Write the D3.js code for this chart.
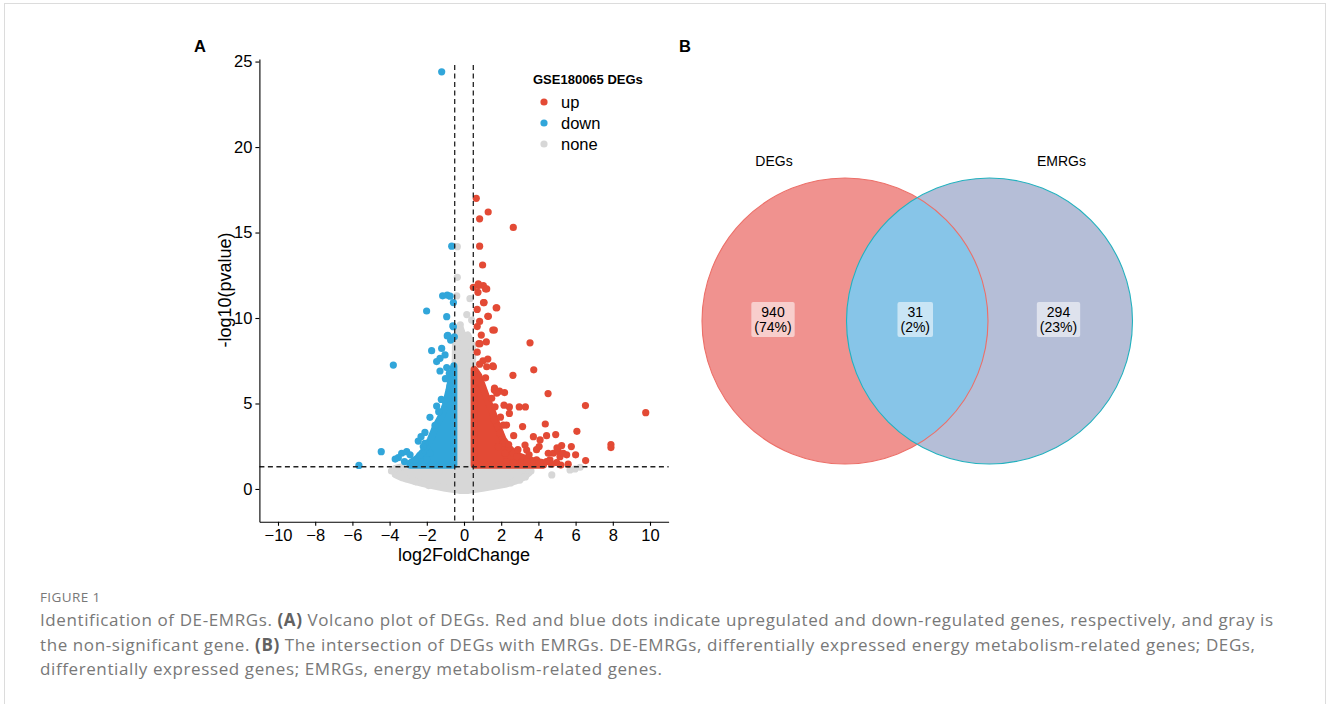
<!DOCTYPE html>
<html>
<head>
<meta charset="utf-8">
<title>Figure 1</title>
<script src="https://cdn.jsdelivr.net/npm/d3@7"></script>
<style>
body { margin: 0; background: #fff; }
svg { display: block; font-family: "Liberation Sans", Arial, sans-serif; }
.caption { font-family: "Open Sans", sans-serif; fill: #787878; }
</style>
</head>
<body>
<div id="chart"></div>
<script>
// ---- volcano data ----
var xTicks = [-10, -8, -6, -4, -2, 0, 2, 4, 6, 8, 10];
var yTicks = [0, 5, 10, 15, 20, 25];
var groups = ["up", "down", "none"];
var fcCut = 0.5;      // |log2FC| cut
var pCut = 1.301;     // -log10(0.05)

// dense cores, as [log2FC, low, high] envelopes
var noneBand = [[-3.7,0.85,1.2],[-3.3,0.65,1.3],[-2.8,0.5,1.3],[-2.2,0.32,1.3],[-1.6,0.18,1.3],[-1.0,0.05,1.3],
  [-0.55,-0.02,1.3],[-0.45,-0.03,8.9],[-0.2,-0.08,9.4],[0.0,-0.08,8.8],[0.2,-0.08,9.0],[0.45,-0.03,8.4],[0.55,-0.02,1.3],
  [1.0,0.05,1.3],[1.6,0.16,1.3],[2.2,0.28,1.3],[2.8,0.48,1.3],[3.2,0.68,1.3],[3.5,0.95,1.25]];
var upBand = [[0.55,1.4,7.0],[0.8,1.4,6.6],[1.0,1.4,6.0],[1.2,1.4,5.4],[1.5,1.4,4.6],[1.8,1.4,3.7],[2.1,1.4,2.9],
  [2.5,1.4,2.3],[3.0,1.4,1.9],[3.5,1.4,1.7],[4.2,1.4,1.55]];
var downBand = [[-0.55,1.4,7.2],[-0.8,1.4,5.8],[-1.0,1.4,4.9],[-1.2,1.4,4.3],[-1.5,1.4,3.7],[-1.8,1.4,2.9],
  [-2.1,1.4,2.3],[-2.5,1.4,1.8],[-2.9,1.4,1.5]];

// scattered genes, as [log2FC, -log10(p)]
var upPoints = [[0.66,17.0],[1.30,16.2],[0.84,15.8],[2.65,15.3],[0.84,14.2],[1.0,13.1],[0.5,11.8],[0.78,11.9],
  [1.16,11.7],[0.75,11.5],[1.05,10.9],[1.73,10.6],[0.71,10.5],[1.28,10.1],[0.84,9.8],[0.71,9.5],[1.55,9.3],
  [0.93,9.0],[0.8,8.5],[1.2,8.6],[3.55,8.55],[0.71,8.0],[1.28,7.6],[3.75,6.97],[1.02,7.5],[0.84,7.3],[1.55,7.2],
  [2.63,6.65],[1.16,6.5],[0.57,5.9],[4.52,5.58],[1.64,5.9],[2.18,5.64],[1.91,5.72],[6.53,4.88],[9.77,4.46],
  [3.3,4.8],[2.97,4.8],[2.44,4.8],[2.15,4.9],[1.96,4.2],[2.44,4.42],[3.15,3.65],[4.37,3.8],[2.67,3.12],
  [3.73,3.06],[4.44,3.12],[4.93,3.18],[6.07,3.37],[7.9,2.6],[7.9,2.42],[6.54,1.66],[5.21,1.4],[5.77,2.48],
  [5.25,2.54],[4.8,2.09],[4.53,2.09],[4.09,2.87],[3.28,2.57],[3.37,2.28],[4.04,2.48],[5.07,2.19],[4.62,1.7],
  [3.9,1.7],[2.65,2.09],[2.11,2.67],[2.2,2.09],[2.29,3.74],[1.94,3.25],[1.63,4.03],[2.11,3.74],[1.85,2.48],
  [4.27,1.4],[3.64,1.6],[3.1,1.5],[2.83,1.89],[5.52,2.0],[1.63,5.79],[1.76,5.6],[1.49,5.3],[1.67,4.81],
  [1.22,7.15],[1.58,7.15],[1.63,9.3],[1.31,10.1],[1.76,10.6],[1.08,10.9],[1.04,11.9],[0.77,12.0],[1.22,11.7],
  [0.86,8.5],[2.29,1.6],[2.65,1.55],[3.37,1.6],[4.09,1.55],[4.44,1.6],[4.98,1.55],[5.16,1.89],[5.34,2.09],
  [4.7,1.45],[5.0,2.4],[5.6,1.45],[6.0,2.0],[2.9,2.3],[3.5,2.0],[2.4,2.6],[3.9,2.3]];
var downPoints = [[-1.2,24.4],[-0.66,14.2],[-5.65,1.38],[-4.45,2.18],[-3.8,7.25],[-2.01,10.41],[-0.93,10.08],
  [-1.15,11.3],[-0.9,11.34],[-0.75,11.28],[-0.57,10.9],[-0.57,9.49],[-0.9,8.95],[-0.72,8.71],[-0.52,8.9],
  [-1.74,8.09],[-1.2,8.22],[-1.02,7.84],[-1.29,7.64],[-1.47,7.45],[-1.29,6.9],[-0.93,7.1],[-0.79,6.76],
  [-1.0,6.45],[-0.75,6.02],[-0.57,5.79],[-1.22,5.24],[-1.47,4.85],[-1.83,4.19],[-1.36,4.52],[-0.75,4.91],
  [-1.56,3.72],[-2.1,3.31],[-2.31,3.06],[-2.46,2.8],[-2.1,2.67],[-2.19,2.48],[-3.35,2.09],[-3.53,1.83],
  [-3.08,2.18],[-2.85,1.52],[-2.37,1.97],[-2.64,1.68],[-1.83,2.09],[-2.01,1.72],[-0.6,9.54],[-0.87,8.98],
  [-3.2,1.6],[-2.9,2.0],[-3.7,1.75]];
var nonePoints = [[-0.36,14.17],[-0.36,12.38],[-0.39,11.29],[0.32,11.13],[0.41,9.88],[4.72,0.82],[5.7,1.11],
  [5.97,1.17],[6.24,1.27],[-3.44,0.86],[-3.1,0.6],[0.15,10.2],[-0.2,9.6],[3.6,1.05],[3.3,0.7],
  [-3.9,1.05],[-2.6,0.42],[-1.9,0.2],[2.5,0.35],[3.0,0.52]];

// ---- venn data ----
var vennSets = ["DEGs", "EMRGs"];
var vennCounts = [940, 31, 294];   // DEGs only, both, EMRGs only

var captionTitle = "FIGURE 1";

var w = 1328, h = 704;
var svg = d3.select("#chart").append("svg").attr("width", w).attr("height", h);

// page frame
svg.append("rect").attr("x", 4.5).attr("y", 3.5).attr("width", 1321).attr("height", 760)
  .attr("fill", "none").attr("stroke", "#dcdcdc");

// ================= A: volcano =================
var x = d3.scaleLinear().domain([-11, 11]).range([259.4, 668.6]);
var y = d3.scaleLinear().domain([-1.92, 25.15]).range([521.8, 59]);
var color = d3.scaleOrdinal().domain(groups).range(["#E34A35", "#31A6DA", "#D7D7D7"]);
var r = 3.6;

var plot = svg.append("g");

var area = d3.area()
  .x(function(d) { return x(d[0]); })
  .y0(function(d) { return y(d[1]); })
  .y1(function(d) { return y(d[2]); });

function drawGroup(name, band, pts) {
  plot.append("path").datum(band)
    .attr("d", area)
    .attr("fill", color(name))
    .attr("stroke", color(name))
    .attr("stroke-width", r * 2)
    .attr("stroke-linejoin", "round");
  plot.append("g").selectAll("circle")
    .data(pts).enter().append("circle")
    .attr("cx", function(d) { return x(d[0]); })
    .attr("cy", function(d) { return y(d[1]); })
    .attr("r", r)
    .attr("fill", color(name));
}
drawGroup("none", noneBand, nonePoints);
drawGroup("down", downBand, downPoints);
drawGroup("up", upBand, upPoints);

// threshold lines
var dash = "5,3.5";
[-fcCut, fcCut].forEach(function(v) {
  plot.append("line")
    .attr("x1", x(v)).attr("x2", x(v)).attr("y1", y(25.15) + 6).attr("y2", y(-1.92))
    .attr("stroke", "#222").attr("stroke-width", 1.3).attr("stroke-dasharray", dash);
});
plot.append("line")
  .attr("x1", x(-11)).attr("x2", x(11)).attr("y1", y(pCut)).attr("y2", y(pCut))
  .attr("stroke", "#222").attr("stroke-width", 1.3).attr("stroke-dasharray", dash);

// axes
var xAxis = svg.append("g").attr("transform", "translate(0," + y(-1.92) + ")")
  .call(d3.axisBottom(x).tickValues(xTicks).tickSize(4).tickSizeOuter(0).tickPadding(3));
var yAxis = svg.append("g").attr("transform", "translate(" + x(-11) + ",0)")
  .call(d3.axisLeft(y).tickValues(yTicks).tickSize(4).tickSizeOuter(0).tickPadding(3));
[xAxis, yAxis].forEach(function(a) {
  a.selectAll("text").attr("font-size", 16.5).attr("fill", "#000")
    .attr("font-family", "Liberation Sans, Arial, sans-serif");
  a.selectAll("line, path").attr("stroke", "#000").attr("stroke-width", 1.1);
});

svg.append("text").attr("x", x(0)).attr("y", 561).attr("text-anchor", "middle")
  .attr("font-size", 18).text("log2FoldChange");
svg.append("text").attr("transform", "translate(231,290) rotate(-90)")
  .attr("text-anchor", "middle").attr("font-size", 18).text("-log10(pvalue)");

// legend
var leg = svg.append("g").attr("transform", "translate(533,0)");
leg.append("text").attr("x", 0).attr("y", 84).attr("font-size", 13).attr("font-weight", "bold")
  .text("GSE180065 DEGs");
leg.selectAll(".item").data(groups).enter().append("g")
  .attr("transform", function(d, i) { return "translate(0," + (102 + i * 21) + ")"; })
  .each(function(d) {
    var g = d3.select(this);
    g.append("circle").attr("cx", 11).attr("cy", 0).attr("r", r).attr("fill", color(d));
    g.append("text").attr("x", 28).attr("y", 5.5).attr("font-size", 16.5).text(d);
  });

// panel letters
svg.append("text").attr("x", 194).attr("y", 52).attr("font-size", 16.5).attr("font-weight", "bold").text("A");
svg.append("text").attr("x", 679).attr("y", 52).attr("font-size", 16.5).attr("font-weight", "bold").text("B");

// ================= B: venn =================
var total = d3.sum(vennCounts);
var cy = 321, vr = 143;
var cx = d3.scalePoint().domain(vennSets).range([845, 989.5]);
var venn = svg.append("g");
var defs = svg.append("defs");
defs.append("clipPath").attr("id", "clipL").append("circle")
  .attr("cx", cx(vennSets[0])).attr("cy", cy).attr("r", vr);

venn.append("circle").attr("cx", cx(vennSets[0])).attr("cy", cy).attr("r", vr).attr("fill", "#F0928F");
venn.append("circle").attr("cx", cx(vennSets[1])).attr("cy", cy).attr("r", vr).attr("fill", "#B5BED7");
venn.append("circle").attr("cx", cx(vennSets[1])).attr("cy", cy).attr("r", vr).attr("fill", "#87C5E8")
  .attr("clip-path", "url(#clipL)");
venn.append("circle").attr("cx", cx(vennSets[0])).attr("cy", cy).attr("r", vr)
  .attr("fill", "none").attr("stroke", "#EC6F68").attr("stroke-width", 1.1);
venn.append("circle").attr("cx", cx(vennSets[1])).attr("cy", cy).attr("r", vr)
  .attr("fill", "none").attr("stroke", "#22B1BE").attr("stroke-width", 1.1);

venn.selectAll(".setlab").data(vennSets).enter().append("text")
  .attr("x", function(d, i) { return cx(d) + (i === 0 ? -71 : 72); })
  .attr("y", 166).attr("text-anchor", "middle").attr("font-size", 14).text(function(d) { return d; });

var labX = [cx(vennSets[0]) - 72, (cx(vennSets[0]) + cx(vennSets[1])) / 2 - 2, cx(vennSets[1]) + 69];
vennCounts.forEach(function(c, i) {
  var g = venn.append("g");
  var bg = g.append("rect");
  var t = g.append("text").attr("text-anchor", "middle").attr("font-size", 14);
  t.append("tspan").attr("x", labX[i]).attr("y", 317).text(c);
  t.append("tspan").attr("x", labX[i]).attr("y", 332).text("(" + Math.round(c / total * 100) + "%)");
  var b = t.node().getBBox();
  bg.attr("x", b.x - 3).attr("y", 302).attr("width", b.width + 6).attr("height", 35)
    .attr("rx", 2).attr("fill", "#fff").attr("fill-opacity", 0.55);
});

// ================= caption =================
var cap = svg.append("g").attr("class", "caption");
cap.append("text").attr("x", 40).attr("y", 602).attr("font-size", 13.5).attr("letter-spacing", 0.4)
  .text(captionTitle);
var lines = [
  [["Identification of DE-EMRGs. ", 0], ["(A)", 1], [" Volcano plot of DEGs. Red and blue dots indicate upregulated and down-regulated genes, respectively, and gray is", 0]],
  [["the non-significant gene. ", 0], ["(B)", 1], [" The intersection of DEGs with EMRGs. DE-EMRGs, differentially expressed energy metabolism-related genes; DEGs,", 0]],
  [["differentially expressed genes; EMRGs, energy metabolism-related genes.", 0]]
];
lines.forEach(function(parts, i) {
  var t = cap.append("text").attr("x", 40).attr("y", 626 + i * 24.5).attr("font-size", 17)
    .attr("letter-spacing", 0.6);
  parts.forEach(function(p) {
    t.append("tspan").attr("font-weight", p[1] ? 700 : 400).attr("fill", p[1] ? "#626262" : null).text(p[0]);
  });
});
</script>
</body>
</html>
